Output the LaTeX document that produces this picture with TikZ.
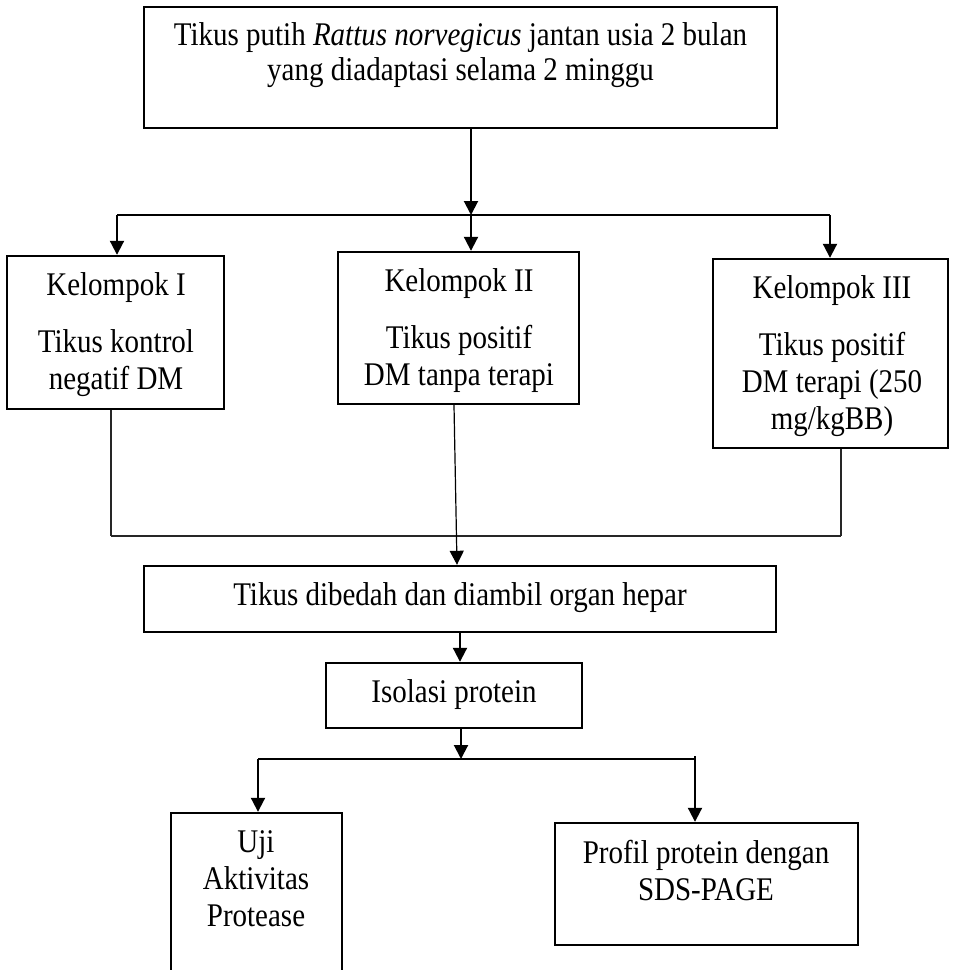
\documentclass[tikz,border=0pt]{standalone}
\usepackage{fontspec}
\setmainfont{Liberation Serif}
\usetikzlibrary{arrows.meta}
\newcommand{\tallt}[1]{\scalebox{1}[1.14]{#1}}
\begin{document}
\begin{tikzpicture}[x=1pt,y=-1pt,
  box/.style={draw,line width=2.4pt,inner sep=0pt},
  txt/.style={anchor=base,inner sep=0pt,font=\fontsize{29}{35}\selectfont},
  tip/.style={-{Triangle[width=14pt,length=14pt]}},
  arr/.style={line width=2pt,tip},
  lnthick/.style={line width=2pt},
  lnthin/.style={line width=1.2pt,black!85},
  lnmid/.style={line width=1.5pt}
]
\clip (0,0) rectangle (954,970);
\fill[white] (0,0) rectangle (954,970);

% boxes
\node[box,minimum width=633pt,minimum height=121pt] (top) at (460.5,67.5) {};
\node[box,minimum width=217pt,minimum height=153pt] (g1) at (115.5,332.5) {};
\node[box,minimum width=241pt,minimum height=152pt] (g2) at (458.5,328) {};
\node[box,minimum width=235pt,minimum height=189pt] (g3) at (830.5,353.5) {};
\node[box,minimum width=632pt,minimum height=66pt] (dib) at (460,599) {};
\node[box,minimum width=256pt,minimum height=65pt] (iso) at (454,695.5) {};
\node[box,minimum width=171pt,minimum height=177pt] (uji) at (256.5,901.5) {};
\node[box,minimum width=303pt,minimum height=122pt] (prof) at (706.5,884) {};

% texts
\node[txt] (t1) at (460.5,45) {\tallt{Tikus putih \textit{Rattus norvegicus} jantan usia 2 bulan}};
\node[txt] (t2) at (460.5,80) {\tallt{yang diadaptasi selama 2 minggu}};

\node[txt] (g1a) at (116,295) {\tallt{Kelompok I}};
\node[txt] (g1b) at (116,352) {\tallt{Tikus kontrol}};
\node[txt] (g1c) at (116,389) {\tallt{negatif DM}};

\node[txt] (g2a) at (459,291) {\tallt{Kelompok II}};
\node[txt] (g2b) at (459,348) {\tallt{Tikus positif}};
\node[txt] (g2c) at (459,385) {\tallt{DM tanpa terapi}};

\node[txt] (g3a) at (832,298) {\tallt{Kelompok III}};
\node[txt] (g3b) at (832,355) {\tallt{Tikus positif}};
\node[txt] (g3c) at (832,392) {\tallt{DM terapi (250}};
\node[txt] (g3d) at (832,429) {\tallt{mg/kgBB)}};

\node[txt] (dibt) at (460,605) {\tallt{Tikus dibedah dan diambil organ hepar}};
\node[txt] (isot) at (454,702) {\tallt{Isolasi protein}};

\node[txt] (uja) at (256,852) {\tallt{Uji}};
\node[txt] (ujb) at (256,889) {\tallt{Aktivitas}};
\node[txt] (ujc) at (256,926) {\tallt{Protease}};

\node[txt] (pra) at (706,863) {\tallt{Profil protein dengan}};
\node[txt] (prb) at (706,900) {\tallt{SDS-PAGE}};

% junction coordinates
\coordinate (j1) at (471,215);
\coordinate (j1l) at (117,215);
\coordinate (j1r) at (830,215);
\coordinate (j2l) at (111,536);
\coordinate (j2r) at (841,536);
\coordinate (j3) at (461,759);
\coordinate (j3l) at (258,759);
\coordinate (j3r) at (695,759);

% top to groups
\draw[arr] (top.south -| j1) -- (j1);
\draw[lnthick] (j1l) -- (j1r);
\draw[arr] (j1l) -- (g1.north -| j1l);
\draw[arr] (j1) -- (g2.north -| j1);
\draw[arr] (j1r) -- (g3.north -| j1r);

% groups to dissection
\draw[lnthin] (g1.south -| j2l) -- (j2l);
\draw[lnthin] (g3.south -| j2r) -- (j2r);
\draw[lnthin] (j2l) -- (j2r);
\draw[lnthin,tip,black] ([xshift=-4.5pt]g2.south) -- ([xshift=-3pt]dib.north);

% dissection to isolation
\draw[arr] (dib.south) -- (iso.north -| dib.south);

% isolation to tests
\draw[arr] (iso.south -| j3) -- (j3);
\draw[lnmid] (j3l) -- (j3r);
\draw[arr] (j3l) -- (uji.north -| j3l);
\draw[arr] ([yshift=3pt]j3r) -- (prof.north -| j3r);
\end{tikzpicture}
\end{document}
